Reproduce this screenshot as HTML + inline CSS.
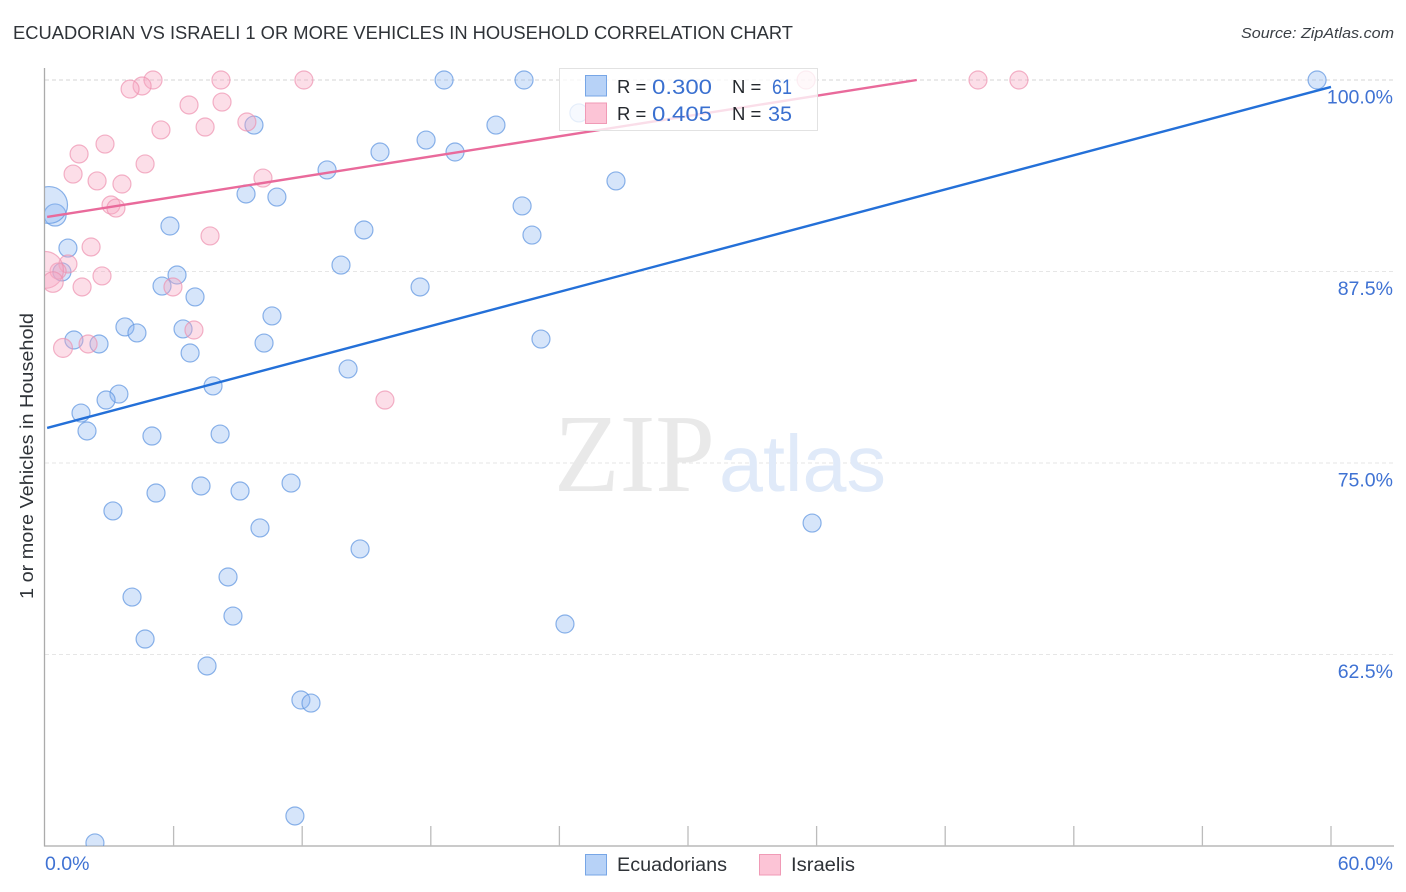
<!DOCTYPE html>
<html lang="en">
<head>
<meta charset="utf-8">
<title>Ecuadorian vs Israeli 1 or More Vehicles in Household Correlation Chart</title>
<style>
html,body{margin:0;padding:0;background:#fff;}
svg{display:block;font-family:"Liberation Sans",sans-serif;}
</style>
</head>
<body>
<svg id="chart" xmlns="http://www.w3.org/2000/svg" width="1406" height="892" viewBox="0 0 1406 892">
  <defs>
    <clipPath id="plot-clip"><rect x="45" y="60" width="1349" height="786"/></clipPath>
  </defs>
  <text x="13" y="39" font-size="18.5" fill="#2f3338" textLength="780" lengthAdjust="spacingAndGlyphs">ECUADORIAN VS ISRAELI 1 OR MORE VEHICLES IN HOUSEHOLD CORRELATION CHART</text>
  <text x="1394" y="38" font-size="15" font-style="italic" fill="#3a3f45" text-anchor="end" textLength="153" lengthAdjust="spacingAndGlyphs">Source: ZipAtlas.com</text>
  <g id="grid"></g>
  <g>
    <text x="554" y="491" font-family="'Liberation Serif',serif" font-size="111" fill="#e9e9e9" textLength="161" lengthAdjust="spacingAndGlyphs">ZIP</text>
    <text x="719" y="491" font-size="80" fill="#e0eaf9" textLength="167" lengthAdjust="spacingAndGlyphs">atlas</text>
  </g>
  <g id="axes"></g>
  <g id="marks" clip-path="url(#plot-clip)"></g>
  <g id="trends"></g>
  <text transform="translate(33,456) rotate(-90)" font-size="18.5" fill="#2f3338" text-anchor="middle" textLength="286" lengthAdjust="spacingAndGlyphs">1 or more Vehicles in Household</text>
  <g id="ticklabels"></g>
  <g>
    <rect x="559.5" y="68.5" width="258" height="62" fill="#fff" fill-opacity="0.78" stroke="#e2e2e2" stroke-width="1"/>
    <rect x="585.5" y="75.5" width="21" height="20.5" fill="#b7d2f7" stroke="#77a6e6"/>
    <rect x="585.5" y="103" width="21" height="20.5" fill="#fcc4d6" stroke="#f09ab6"/>
    <text x="617" y="93" font-size="18.5" fill="#25292e">R =</text>
    <text x="652" y="94" font-size="21.5" fill="#3a70d0" textLength="60" lengthAdjust="spacingAndGlyphs">0.300</text>
    <text x="732" y="93" font-size="18.5" fill="#25292e">N =</text>
    <text x="772" y="94" font-size="21.5" fill="#3a70d0" textLength="20" lengthAdjust="spacingAndGlyphs">61</text>
    <text x="617" y="120" font-size="18.5" fill="#25292e">R =</text>
    <text x="652" y="121" font-size="21.5" fill="#3a70d0" textLength="60" lengthAdjust="spacingAndGlyphs">0.405</text>
    <text x="732" y="120" font-size="18.5" fill="#25292e">N =</text>
    <text x="768" y="121" font-size="21.5" fill="#3a70d0" textLength="24" lengthAdjust="spacingAndGlyphs">35</text>
  </g>
  <g>
    <rect x="585.5" y="854.5" width="21" height="20.5" fill="#b7d2f7" stroke="#77a6e6"/>
    <text x="617" y="871" font-size="19" fill="#2f3338" textLength="110" lengthAdjust="spacingAndGlyphs">Ecuadorians</text>
    <rect x="759.5" y="854.5" width="21" height="20.5" fill="#fcc4d6" stroke="#f09ab6"/>
    <text x="791" y="871" font-size="19" fill="#2f3338" textLength="64" lengthAdjust="spacingAndGlyphs">Israelis</text>
  </g>
</svg>
<script>
const ecuadorianX = [59.35,18.62,22.35,24.91,21.04,9.75,17.78,15.63,19.13,13.16,26.64,9.38,10.82,22.26,0.47,0.19,5.83,14.88,22.72,1.07,13.81,6.16,0.79,17.50,5.46,7.00,10.59,3.73,6.44,4.29,1.35,2.52,10.22,23.14,6.77,14.14,7.84,3.45,2.85,1.68,1.96,4.99,8.17,11.48,7.28,9.10,5.18,3.17,35.79,10.03,14.70,8.54,4.06,8.77,24.26,4.67,7.56,11.94,12.41,11.66,2.33];
const ecuadorianY = [100,100,100,97.85,97.06,97.06,96.08,95.30,95.30,94.13,93.41,92.56,92.36,91.78,91.19,91.84,90.47,90.21,89.88,89.03,87.92,87.27,87.47,86.49,86.55,85.84,84.60,83.88,83.75,83.49,83.03,82.77,82.83,83.09,82.18,81.14,80.03,79.50,79.11,78.26,77.09,76.76,76.89,73.69,73.50,73.17,73.04,71.87,71.08,70.76,69.39,67.56,66.25,65.01,64.49,63.51,61.75,59.53,59.33,51.96,50.20];
const ecuadorianWeight = [1,1,1,1,1,1,1,1,1,1,1,1,1,1,1.5,4.2,1,1,1,1,1,1,1,1,1,1,1,1,1,1,1,1,1,1,1,1,1,1,1,1,1,1,1,1,1,1,1,1,1,1,1,1,1,1,1,1,1,1,1,1,1];
const israeliX = [5.04,8.21,12.08,43.53,45.44,35.51,4.53,3.97,6.72,8.26,5.41,7.47,9.42,2.80,1.59,4.67,1.31,10.17,2.43,3.59,3.08,3.31,7.70,2.15,1.07,0.61,0,0.37,1.73,2.66,5.97,6.95,2.01,0.84,15.86];
const israeliY = [100,100,100,100,100,100,99.61,99.41,98.37,98.56,96.74,96.93,97.26,95.82,95.17,94.52,93.86,93.60,93.41,93.21,91.84,91.64,89.82,89.10,87.99,87.53,87.60,86.81,86.49,87.21,86.49,83.68,82.77,82.51,79.11];
const israeliWeight = [1,1,1,1,1,1,1,1,1,1,1,1,1,1,1,1,1,1,1,1,1,1,1,1,1,0.8,4.2,1.3,1,1,1,1,1,1.1,1];
const ecuadorianTrend = [77.25,0.3716];
const israeliTrend = [91.04,0.2203];
const xTickValues = [0,6,12,18,24,30,36,42,48,54,60];
const yGridValues = [100,87.5,75,62.5];
const yTickLabels = ["100.0%","87.5%","75.0%","62.5%"];
const xEndLabels = ["0.0%","60.0%"];

const NS = "http://www.w3.org/2000/svg";
function xScale(v){return 45 + v * (1331 - 45) / 60;}
function yScale(v){return 80 + (100 - v) * (846 - 80) / 50;}
function make(tag, attrs, parent){
  const el = document.createElementNS(NS, tag);
  for (const k in attrs) el.setAttribute(k, attrs[k]);
  parent.appendChild(el);
  return el;
}
const gridG = document.getElementById("grid");
const axesG = document.getElementById("axes");
const marksG = document.getElementById("marks");
const trendsG = document.getElementById("trends");
const labelsG = document.getElementById("ticklabels");

yGridValues.forEach(function(v, i){
  const line = make("line", {x1:45, x2:1394, y1:yScale(v), y2:yScale(v), stroke:i === 0 ? "#d4d4d4" : "#e6e6e6", "stroke-width":1, "stroke-dasharray":"4 3"}, gridG);
  
  
  const label = make("text", {x:1393, y:yScale(v) + 23.5, "font-size":19.5, fill:"#3f72d3", "text-anchor":"end"}, labelsG);
  
  
  label.textContent = yTickLabels[i];
});

const yAxis = make("line", {x1:44.5, x2:44.5, y1:68, y2:846.5, stroke:"#ababab", "stroke-width":1.3}, axesG);


const xAxis = make("line", {x1:44, x2:1394, y1:846, y2:846, stroke:"#ababab", "stroke-width":1.3}, axesG);


xTickValues.forEach(function(v){
  if (v === 0) return;
  const tick = make("line", {x1:xScale(v), x2:xScale(v), y1:826, y2:846, stroke:"#bcbcbc", "stroke-width":1.3}, axesG);
  
  
});
const xLabelStart = make("text", {x:45, y:870, "font-size":19.5, fill:"#3f72d3"}, labelsG);


xLabelStart.textContent = xEndLabels[0];
const xLabelEnd = make("text", {x:1393, y:870, "font-size":19.5, fill:"#3f72d3", "text-anchor":"end"}, labelsG);


xLabelEnd.textContent = xEndLabels[1];

ecuadorianX.forEach(function(x, i){
  const c = make("circle", {cx:xScale(x), cy:yScale(ecuadorianY[i]), r:9 * Math.sqrt(ecuadorianWeight[i]), fill:"#8db8f2", "fill-opacity":0.36, stroke:"#5f96e0", "stroke-opacity":0.72, "stroke-width":1.2}, marksG);
  
  
});
israeliX.forEach(function(x, i){
  const c = make("circle", {cx:xScale(x), cy:yScale(israeliY[i]), r:9 * Math.sqrt(israeliWeight[i]), fill:"#f8a8c2", "fill-opacity":0.38, stroke:"#ee8fae", "stroke-opacity":0.68, "stroke-width":1.2}, marksG);
  
  
});

function trendEndX(t){return Math.min(60, (100 - t[0]) / t[1]);}
const blueTrend = make("line", {x1:xScale(0.1), y1:yScale(ecuadorianTrend[0] + ecuadorianTrend[1] * 0.1), x2:xScale(trendEndX(ecuadorianTrend)), y2:yScale(ecuadorianTrend[0] + ecuadorianTrend[1] * trendEndX(ecuadorianTrend)), stroke:"#2470d8", "stroke-width":2.4}, trendsG);


const pinkTrend = make("line", {x1:xScale(0.1), y1:yScale(israeliTrend[0] + israeliTrend[1] * 0.1), x2:xScale(trendEndX(israeliTrend)), y2:yScale(israeliTrend[0] + israeliTrend[1] * trendEndX(israeliTrend)), stroke:"#e96a9b", "stroke-width":2.4}, trendsG);


</script>
</body>
</html>
